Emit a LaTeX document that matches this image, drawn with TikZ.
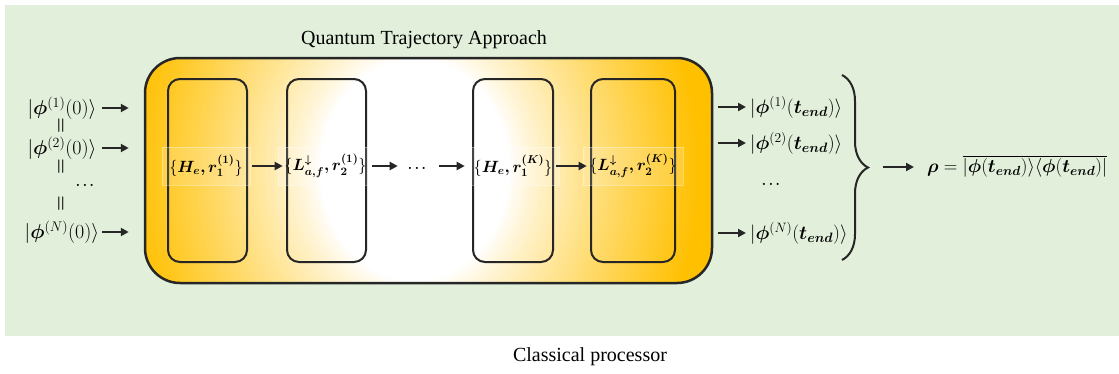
\RequirePackage{fix-cm}
\documentclass[tikz,border=0pt]{standalone}
\usepackage{amsmath}
\usepackage{fontspec}
\setmainfont{Liberation Serif}
\usepackage{bm}
\usetikzlibrary{arrows.meta,decorations.pathreplacing}

\definecolor{bggreen}{RGB}{226,239,218}
\definecolor{qgold}{RGB}{255,192,0}
\definecolor{ink}{RGB}{38,38,38}

\tikzset{
  txt/.style={font=\fontsize{20}{24}\selectfont, inner sep=0pt},
  mth/.style={font=\fontsize{#1}{22}\selectfont, inner sep=1pt},
  mth/.default=19.4,
  bigbox/.style={draw=ink, line width=2.5pt, rounded corners=35pt},
  stagebox/.style={draw=ink, line width=2pt, rounded corners=12pt,
    minimum height=183pt},
  stagelabel/.style={mth=16.3, fill=white, fill opacity=0.15, text opacity=1,
    draw=white, draw opacity=0.35, line width=0.6pt,
    minimum height=38pt, inner xsep=0pt},
  arr/.style={draw=ink, line width=2pt,
    -{Triangle[length=8pt,width=8pt]}},
  eqv/.style={mth=18, rotate=90},
  dotsn/.style={mth=13.5, inner sep=0pt},
}

\begin{document}
\begin{tikzpicture}[x=1pt,y=-1pt]
\useasboundingbox (0,0) rectangle (1119,373);

% classical processor area
\fill[bggreen] (5,5) rectangle (1119,336);
\node[txt] (cp) at (590,357) {Classical processor};

% quantum trajectory block: gold frame glowing white towards the middle
\node[txt] (title) at (424,40) {Quantum Trajectory Approach};
\coordinate (qnw) at (145,58);
\coordinate (qse) at (712,283);
\coordinate (glow) at (415,170);
\begin{scope}
  \clip[rounded corners=35pt] (qnw) rectangle (qse);
  \fill[qgold] (qnw) rectangle (qse);
  \foreach \r in {285,282,...,96} {
    \pgfmathtruncatemacro\p{100*((\r-95)/190)^0.85}
    \fill[qgold!\p!white] (glow) ellipse [x radius=\r, y radius=\r/0.85];
  }
  \fill[white] (glow) ellipse [x radius=95, y radius=95/0.85];
\end{scope}
\node[bigbox, minimum width=567pt, minimum height=225pt]
  (qta) at (428.5,170.5) {};

\node[stagebox, minimum width=79pt] (b1) at (207.5,170.5) {};
\node[stagebox, minimum width=79pt] (b2) at (326.5,170.5) {};
\node[stagebox, minimum width=80pt] (b3) at (513,170.5) {};
\node[stagebox, minimum width=84pt] (b4) at (633,170.5) {};

\node[stagelabel, minimum width=88pt] (l1) at (206,166) {$\{\bm{H_e,r_1^{(1)}}\}$};
\node[stagelabel, minimum width=95pt] (l2) at (325.5,166) {$\{\bm{L_{a,f}^{\downarrow},r_2^{(1)}}\}$};
\node[dotsn] (dm) at (417,168) {$\bm{\ldots}$};
\node[stagelabel, minimum width=92pt] (l3) at (513,166) {$\{\bm{H_e,r_1^{(K)}}\}$};
\node[stagelabel, minimum width=100pt] (l4) at (633,166) {$\{\bm{L_{a,f}^{\downarrow},r_2^{(K)}}\}$};

\draw[arr, shorten <=2pt, shorten >=-5pt] (l1.east) -- (l2.west);
\draw[arr, shorten <=-1pt, shorten >=10pt] (l2.east) -- (l2.east -| dm.west);
\draw[arr, shorten <=13pt, shorten >=2pt] (l3.west -| dm.east) -- (l3.west);
\draw[arr, shorten <=-3pt, shorten >=-4pt] (l3.east) -- (l4.west);

% initial states
\node[mth=20] (in1) at (62,108) {$|\bm{\phi}^{(1)}(0)\rangle$};
\node[mth=20] (in2) at (62,148) {$|\bm{\phi}^{(2)}(0)\rangle$};
\node[mth=20] (inN) at (62,232) {$|\bm{\phi}^{(N)}(0)\rangle$};
\node[eqv] (e1) at (62,126) {$\bm{=}$};
\node[eqv] (e2) at (62,167) {$\bm{=}$};
\node[dotsn] (ind) at (85,185) {$\bm{\ldots}$};
\node[eqv] (e3) at (62,204) {$\bm{=}$};

\draw[arr, shorten <=4pt, shorten >=15pt] (in1.east) -- (in1.east -| qta.west);
\draw[arr, shorten <=4pt, shorten >=15pt] (in2.east) -- (in2.east -| qta.west);
\draw[arr, shorten <=2pt, shorten >=15pt] (inN.east) -- (inN.east -| qta.west);

% final states
\node[mth, anchor=west] (o1) at (749,107) {$|\bm{\phi}^{(1)}(\bm{t_{end}})\rangle$};
\node[mth, anchor=west] (o2) at (749,143) {$|\bm{\phi}^{(2)}(\bm{t_{end}})\rangle$};
\node[dotsn] (od) at (771,184) {$\bm{\ldots}$};
\node[mth, anchor=west] (oN) at (749,233) {$|\bm{\phi}^{(N)}(\bm{t_{end}})\rangle$};

\draw[arr, shorten <=5pt, shorten >=3pt] (o1.west -| qta.east) -- (o1.west);
\draw[arr, shorten <=5pt, shorten >=3pt] (o2.west -| qta.east) -- (o2.west);
\draw[arr, shorten <=5pt, shorten >=3pt] (oN.west -| qta.east) -- (oN.west);

% ensemble average
\coordinate (bt) at (842,75);
\coordinate (bb) at (842,260);
\draw[ink, line width=2pt, decorate, decoration={brace, amplitude=26pt}] (bt) -- (bb);
\node[mth=18.8, anchor=west] (rho) at (926,166)
  {$\bm{\rho}=\overline{|\bm{\phi}(\bm{t_{end}})\rangle\langle\bm{\phi}(\bm{t_{end}})|}$};
\coordinate (tip) at (870,167);
\draw[arr, shorten <=13pt, shorten >=12pt] (tip) -- (rho.west |- tip);
\end{tikzpicture}
\end{document}
